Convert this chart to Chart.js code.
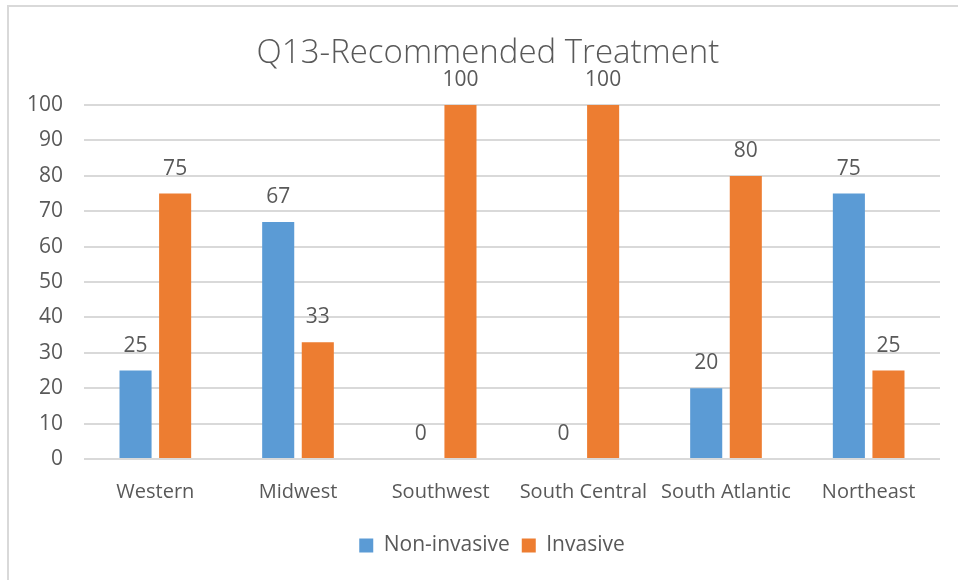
<!DOCTYPE html>
<html>

<head>
    <meta charset="utf-8">
    <script src="https://cdn.jsdelivr.net/npm/chart.js@4.4.0/dist/chart.umd.min.js"></script>
    <title>Q13-Recommended Treatment</title>
    <style>
        html, body { margin: 0; padding: 0; background: #fff; }
        #wrap { position: relative; width: 958px; height: 580px; }
    </style>
</head>

<body>
    <div id="wrap"><canvas id="bar-chart" width="958" height="580"></canvas></div>
    <script>
        // data
        const regions = ['Western', 'Midwest', 'Southwest', 'South Central', 'South Atlantic', 'Northeast'];
        const nonInvasive = [25, 67, 0, 0, 20, 75];
        const invasive = [75, 33, 100, 100, 80, 25];
        const yTicks = [0, 10, 20, 30, 40, 50, 60, 70, 80, 90, 100];

        const textColor = '#595959';
        const fontFamily = "'Open Sans', 'Liberation Sans', sans-serif";

        // value labels above each bar
        const valueLabels = {
            id: 'valueLabels',
            afterDatasetsDraw(chart) {
                const ctx = chart.ctx;
                ctx.save();
                ctx.font = '21px ' + fontFamily;
                ctx.fillStyle = textColor;
                ctx.textAlign = 'center';
                ctx.textBaseline = 'middle';
                chart.data.datasets.forEach((ds, i) => {
                    chart.getDatasetMeta(i).data.forEach((bar, j) => {
                        ctx.fillText(ds.data[j], bar.x, bar.y - 25);
                    });
                });
                ctx.restore();
            }
        };

        // grey frame at the left and top like the screenshot,
        // and title / legend centred over the plot instead of the canvas
        const frame = {
            id: 'frame',
            afterLayout(chart) {
                chart.titleBlock.left = 36;
                chart.legend.left = 44;
            },
            beforeDraw(chart) {
                const ctx = chart.ctx;
                ctx.save();
                ctx.fillStyle = '#fff';
                ctx.fillRect(0, 0, chart.width, chart.height);
                ctx.strokeStyle = '#d9d9d9';
                ctx.lineWidth = 2;
                ctx.beginPath();
                ctx.moveTo(8, chart.height);
                ctx.lineTo(8, 6);
                ctx.lineTo(chart.width, 6);
                ctx.stroke();
                ctx.restore();
            }
        };

        new Chart(document.getElementById('bar-chart'), {
            type: 'bar',
            data: {
                labels: regions,
                datasets: [{
                    label: 'Non-invasive',
                    backgroundColor: '#5B9BD5',
                    data: nonInvasive
                }, {
                    label: 'Invasive',
                    backgroundColor: '#ED7D31',
                    data: invasive
                }]
            },
            options: {
                responsive: false,
                animation: false,
                layout: { padding: { left: 0, right: 18, top: 0, bottom: 14 } },
                datasets: {
                    bar: { categoryPercentage: 0.555, barPercentage: 0.81 }
                },
                plugins: {
                    title: {
                        display: true,
                        text: 'Q13-Recommended Treatment',
                        color: textColor,
                        font: { family: fontFamily, size: 33, weight: '300', lineHeight: 1.2 },
                        padding: { top: 34, bottom: 31.5 }
                    },
                    legend: {
                        position: 'bottom',
                        labels: {
                            color: textColor,
                            font: { family: fontFamily, size: 21 },
                            boxWidth: 14,
                            boxHeight: 14,
                            padding: 12
                        }
                    },
                    tooltip: { enabled: false }
                },
                scales: {
                    x: {
                        grid: { display: false, drawTicks: false },
                        border: { display: false },
                        ticks: {
                            color: textColor,
                            font: { family: fontFamily, size: 20 },
                            padding: 21,
                            maxRotation: 0,
                            autoSkip: false
                        },
                        afterFit(scale) { scale.height = 64; }
                    },
                    y: {
                        min: 0,
                        max: 100,
                        grid: { color: '#d9d9d9', lineWidth: 2, drawTicks: false },
                        border: { display: false },
                        afterBuildTicks(scale) { scale.ticks = yTicks.map(v => ({ value: v })); },
                        ticks: {
                            color: textColor,
                            font: { family: fontFamily, size: 21 },
                            padding: 21
                        },
                        afterFit(scale) { scale.width = 84; }
                    }
                }
            },
            plugins: [frame, valueLabels]
        });
    </script>
</body>

</html>
